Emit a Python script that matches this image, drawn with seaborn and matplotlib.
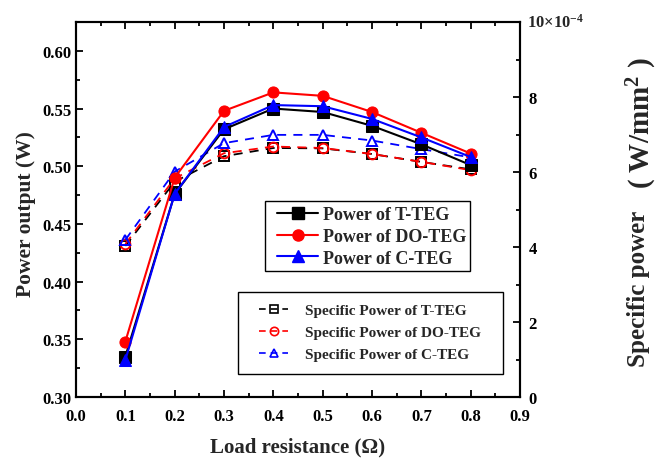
import numpy as np
import pandas as pd
import matplotlib
matplotlib.use("Agg")
import matplotlib.pyplot as plt
import seaborn as sns
from matplotlib.ticker import MultipleLocator, FixedLocator, FixedFormatter
from matplotlib.lines import Line2D
from matplotlib.patches import Rectangle

sns.set_style("ticks")
plt.rcParams['font.family'] = ['Liberation Serif', 'DejaVu Serif']
plt.rcParams['font.weight'] = 'bold'
plt.rcParams['axes.labelweight'] = 'bold'
plt.rcParams['mathtext.fontset'] = 'custom'
plt.rcParams['mathtext.rm'] = 'Liberation Serif:bold'
plt.rcParams['mathtext.bf'] = 'Liberation Serif:bold'
plt.rcParams['mathtext.it'] = 'Liberation Serif:bold'

# ---- data ----
load_res = [0.1, 0.2, 0.3, 0.4, 0.5, 0.6, 0.7, 0.8]
power_t = [0.335, 0.476, 0.532, 0.550, 0.547, 0.535, 0.519, 0.501]
power_do = [0.348, 0.490, 0.548, 0.564, 0.561, 0.547, 0.529, 0.511]
power_c = [0.332, 0.476, 0.534, 0.553, 0.552, 0.541, 0.525, 0.508]
# specific power in units of 1e-4 W/mm^2
spec_t = [4.03, 5.74, 6.42, 6.64, 6.63, 6.48, 6.27, 6.07]
spec_do = [4.08, 5.83, 6.50, 6.68, 6.64, 6.48, 6.27, 6.05]
spec_c = [4.19, 6.01, 6.77, 6.99, 6.99, 6.84, 6.61, 6.39]

solid_labels = ["Power of T-TEG", "Power of DO-TEG", "Power of C-TEG"]
dash_labels = ["Specific Power of T-TEG", "Specific Power of DO-TEG", "Specific Power of C-TEG"]
colors = ["black", "red", "blue"]
markers = ["s", "o", "^"]

W, H = 659, 460
AX_L, AX_R, AX_T, AX_B = 76, 520, 23, 398

fig = plt.figure(figsize=(W/100, H/100), dpi=100)
ax = fig.add_axes([AX_L/W, 1-AX_B/H, (AX_R-AX_L)/W, (AX_B-AX_T)/H])
ax2 = ax.twinx()

def ax_frac(px, py):
    return ((px-AX_L)/(AX_R-AX_L), (AX_B-py)/(AX_B-AX_T))

# dashed specific power on right axis
for vals, c, m in zip([spec_t, spec_do, spec_c], colors, markers):
    df = pd.DataFrame({"x": load_res, "y": np.array(vals) * 1e-4})
    sns.lineplot(data=df, x="x", y="y", ax=ax2, color=c, marker=m, markersize=7,
                 markerfacecolor="none", markeredgecolor=c, markeredgewidth=1.4,
                 linestyle=(0, (5, 4)), linewidth=1.3, legend=False)

# solid power on left axis
for vals, c, m in zip([power_t, power_do, power_c], colors, markers):
    df = pd.DataFrame({"x": load_res, "y": vals})
    sns.lineplot(data=df, x="x", y="y", ax=ax, color=c, marker=m, markersize=8,
                 markerfacecolor=c, markeredgecolor=c, linewidth=1.5, legend=False)

ax.set_zorder(ax2.get_zorder() + 1)
ax.patch.set_visible(False)

ax.set_xlim(0.0, 0.9)
ax.set_ylim(0.30, 0.625)
ax2.set_ylim(0, 10e-4)

ax.xaxis.set_major_locator(MultipleLocator(0.1))
ax.xaxis.set_minor_locator(MultipleLocator(0.05))
ax.yaxis.set_major_locator(MultipleLocator(0.05))
ax.yaxis.set_minor_locator(MultipleLocator(0.025))
ax.xaxis.set_major_formatter(matplotlib.ticker.FormatStrFormatter('%.1f'))
ax.yaxis.set_major_formatter(matplotlib.ticker.FormatStrFormatter('%.2f'))

ax2.yaxis.set_major_locator(FixedLocator([0, 2e-4, 4e-4, 6e-4, 8e-4, 10e-4]))
ax2.yaxis.set_major_formatter(FixedFormatter(["0", "2", "4", "6", "8", ""]))
ax2.yaxis.set_minor_locator(MultipleLocator(1e-4))
ax2.text(1.015, 1.0, "10×10$^{-4}$", transform=ax.transAxes, ha="left", va="center",
         fontsize=12, fontweight="bold")

for a in (ax, ax2):
    for s in a.spines.values():
        s.set_visible(True)
        s.set_linewidth(1.5)
        s.set_color("black")

ax.tick_params(axis="both", which="both", direction="in", top=True, right=False,
               labelsize=12, width=1.3, colors="black")
ax.tick_params(axis="x", which="major", pad=8)
ax.tick_params(which="major", length=5)
ax.tick_params(which="minor", length=3)
ax2.tick_params(axis="y", which="both", direction="in", labelsize=12, width=1.3, colors="black")
ax2.tick_params(which="major", length=5, pad=6)
ax2.tick_params(which="minor", length=3)
for lbl in ax.get_xticklabels() + ax.get_yticklabels() + ax2.get_yticklabels():
    lbl.set_fontweight("bold")

ax.set_xlabel("Load resistance (Ω)", fontsize=15, fontweight="bold", labelpad=9)
ax.set_ylabel("Power output (W)", fontsize=15.5, fontweight="bold")
ax.yaxis.set_label_coords(-0.09, 0.49)

# right axis label (two parts, the parenthesised unit set larger as in the reference)
ax2.set_ylabel("")
fig.text(639/W, 1-289/H, "Specific power", rotation=90, ha="center", va="center",
         fontsize=18, fontweight="bold")
fig.text(642/W, 1-123/H, "( W/mm$^{2}$ )", rotation=90, ha="center", va="center",
         fontsize=21, fontweight="bold")

# legend 1 (solid lines)
h1 = [Line2D([], [], color=c, marker=m, markersize=8, linewidth=1.5) for c, m in zip(colors, markers)]
leg1 = ax.legend(h1, solid_labels, loc="upper left", bbox_to_anchor=ax_frac(277, 207.5),
                 frameon=False, prop={"weight": "bold", "size": 13}, handlelength=2.28,
                 labelspacing=0.25, borderpad=0, handletextpad=0.28, borderaxespad=0)
ax.add_artist(leg1)
x0, y1 = ax_frac(265, 202)
x1, y0 = ax_frac(470, 272)
ax.add_patch(Rectangle((x0, y0), x1-x0, y1-y0, transform=ax.transAxes, fill=False,
                       edgecolor="black", linewidth=1.0, zorder=5))

# legend 2 (dashed lines, hollow markers)
h2 = [Line2D([], [], color=c, marker=m, markersize=6, markerfacecolor="none",
             markeredgewidth=1.2, linestyle=(0, (4, 3)), linewidth=1.2) for c, m in zip(colors, markers)]
leg2 = ax.legend(h2, dash_labels, loc="upper left", bbox_to_anchor=ax_frac(259, 304.5),
                 frameon=False, prop={"weight": "bold", "size": 11}, handlelength=1.9,
                 labelspacing=0.54, borderpad=0, handletextpad=1.1, borderaxespad=0)
x0, y1 = ax_frac(238, 293)
x1, y0 = ax_frac(503, 375)
ax.add_patch(Rectangle((x0, y0), x1-x0, y1-y0, transform=ax.transAxes, fill=False,
                       edgecolor="black", linewidth=1.0, zorder=5))

fig.savefig("out.png", dpi=100)
